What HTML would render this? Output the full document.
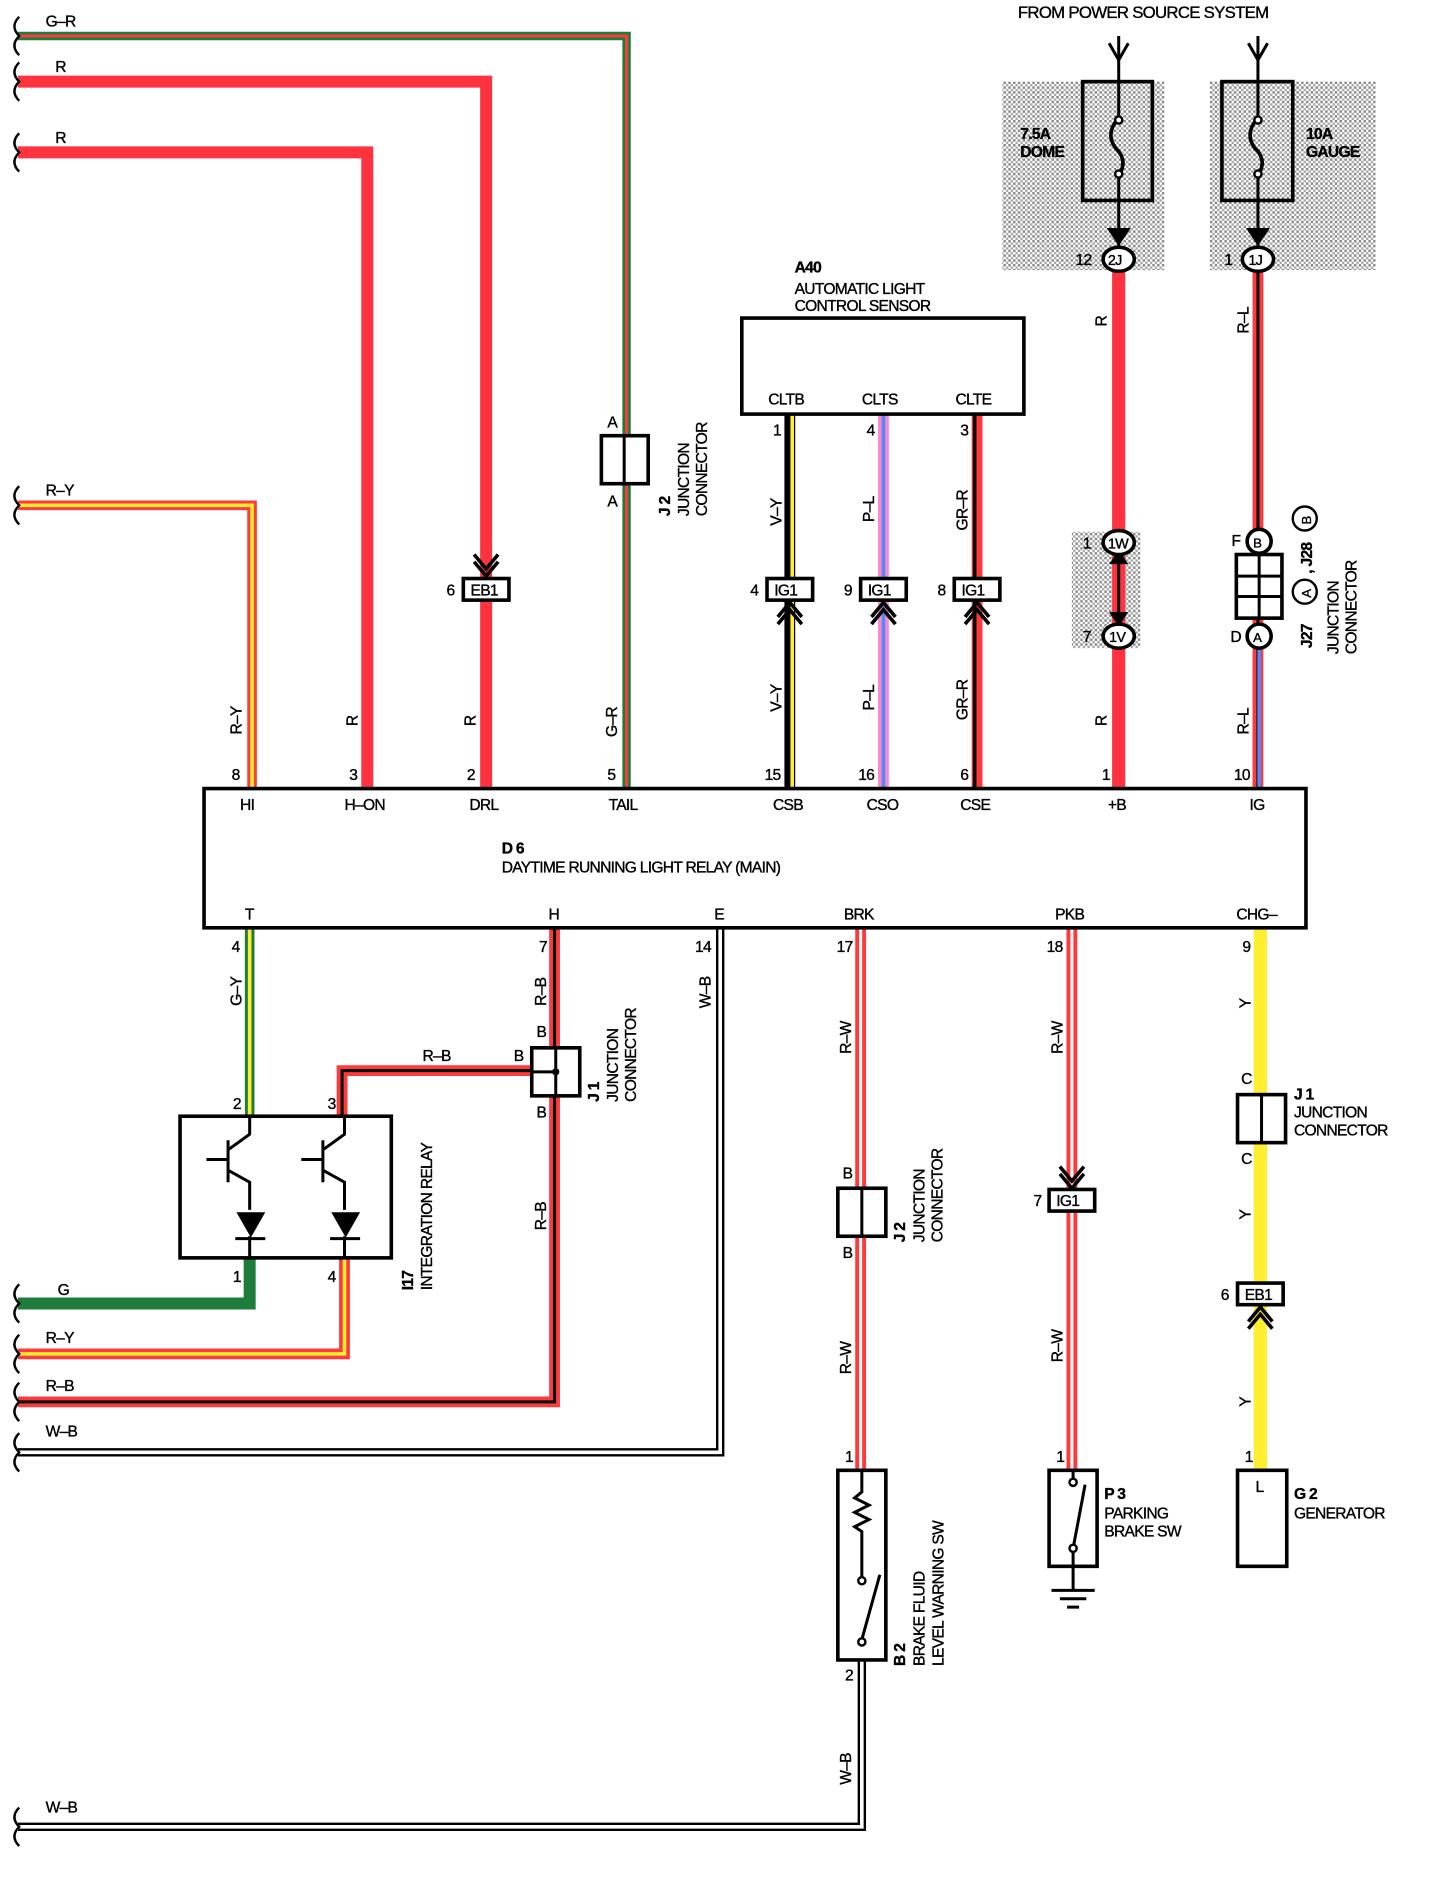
<!DOCTYPE html>
<html><head><meta charset="utf-8"><style>
html,body{margin:0;padding:0;background:#fff;}
svg{display:block}
text{font-family:"Liberation Sans",sans-serif;font-size:13px;fill:#000;letter-spacing:-0.6px;stroke:#000;stroke-width:0.3px}
.b{font-weight:bold}
</style></head><body>
<svg width="1456" height="1888" viewBox="0 0 1213 1573" preserveAspectRatio="none" xmlns="http://www.w3.org/2000/svg">
<defs>
<pattern id="ht" width="4" height="4" patternUnits="userSpaceOnUse"><rect width="4" height="4" fill="#fff"/><rect width="2" height="2" fill="#888"/><rect x="2" y="2" width="2" height="2" fill="#aaa"/></pattern>
</defs>
<rect x="835" y="68" width="135" height="157" fill="url(#ht)"/>
<rect x="1008" y="68" width="138" height="157" fill="url(#ht)"/>
<rect x="893" y="443" width="57" height="97" fill="url(#ht)"/>

<g fill="none" stroke-linejoin="miter">
<path d="M15 30 H522 V657" stroke="#1e7d3a" stroke-width="7"/>
<path d="M15 30 H522 V657" stroke="#ff3a3a" stroke-width="2.5"/>
<path d="M15 68 H405 V657" stroke="#ff3340" stroke-width="10"/>
<path d="M15 127 H306 V657" stroke="#ff3340" stroke-width="10"/>
<path d="M15 421 H210 V657" stroke="#ff3a3a" stroke-width="8"/>
<path d="M15 421 H210 V657" stroke="#ffee30" stroke-width="3"/>
<path d="M658 345 V657" stroke="#000" stroke-width="9"/>
<path d="M660 345 V657" stroke="#ffee30" stroke-width="3"/>
<path d="M736 345 V657" stroke="#ff88cc" stroke-width="9"/>
<path d="M736 345 V657" stroke="#4d8cff" stroke-width="3"/>
<path d="M814 345 V657" stroke="#ff3a3a" stroke-width="9"/>
<path d="M812 345 V657" stroke="#000" stroke-width="3"/>
<path d="M932 225 V657" stroke="#ff3340" stroke-width="11"/>
<path d="M1048 225 V657" stroke="#ff3a3a" stroke-width="9"/>
<path d="M1048 225 V657" stroke="#000" stroke-width="2.5"/>
<path d="M1049 530 V657" stroke="#4d8cff" stroke-width="3"/>
<path d="M208 773 V930" stroke="#1e7d3a" stroke-width="8"/>
<path d="M208 773 V930" stroke="#ffee30" stroke-width="3"/>
<path d="M462 773 V1168 H15" stroke="#ff3a3a" stroke-width="9"/>
<path d="M462 773 V1168 H15" stroke="#000" stroke-width="2.5"/>
<path d="M462 892 H285 V930" stroke="#ff3a3a" stroke-width="9"/>
<path d="M462 892 H285 V930" stroke="#000" stroke-width="2.5"/>
<path d="M600 773 V1210 H15" stroke="#000" stroke-width="7"/>
<path d="M600 773 V1210 H15" stroke="#fff" stroke-width="3"/>
<path d="M208 1048 V1086 H15" stroke="#1e7d3a" stroke-width="10"/>
<path d="M287 1048 V1128 H15" stroke="#ff3a3a" stroke-width="9"/>
<path d="M287 1048 V1128 H15" stroke="#ffee30" stroke-width="3"/>
<path d="M717 773 V1225" stroke="#ff3a3a" stroke-width="9"/>
<path d="M717 773 V1225" stroke="#fff" stroke-width="2.5"/>
<path d="M718 1383 V1522 H15" stroke="#000" stroke-width="7"/>
<path d="M718 1383 V1522 H15" stroke="#fff" stroke-width="3"/>
<path d="M893 773 V1225" stroke="#ff3a3a" stroke-width="9"/>
<path d="M893 773 V1225" stroke="#fff" stroke-width="2.5"/>
<path d="M1050 773 V1225" stroke="#ffee30" stroke-width="11"/>
<g stroke="#000" stroke-width="2">
<path d="M16 14 q-8 8 0 16 q-8 8 0 16"/>
<path d="M16 52 q-8 8 0 16 q-8 8 0 16"/>
<path d="M16 111 q-8 8 0 16 q-8 8 0 16"/>
<path d="M16 405 q-8 8 0 16 q-8 8 0 16"/>
<path d="M16 1070 q-8 8 0 16 q-8 8 0 16"/>
<path d="M16 1112 q-8 8 0 16 q-8 8 0 16"/>
<path d="M16 1152 q-8 8 0 16 q-8 8 0 16"/>
<path d="M16 1194 q-8 8 0 16 q-8 8 0 16"/>
<path d="M16 1506 q-8 8 0 16 q-8 8 0 16"/>
</g>
</g>

<g fill="#fff" stroke="#000" stroke-width="3">
<rect x="170" y="657" width="918" height="116"/>
<rect x="618" y="265" width="235" height="80"/>
<rect x="501" y="363" width="39" height="40"/>
<rect x="386" y="482" width="38" height="18"/>
<rect x="639" y="482" width="38" height="18"/>
<rect x="717" y="482" width="38" height="18"/>
<rect x="795" y="482" width="38" height="18"/>
<rect x="874" y="991" width="38" height="18"/>
<rect x="1031" y="1069" width="38" height="18"/>
<rect x="150" y="930" width="176" height="118"/>
<rect x="443" y="873" width="40" height="40"/>
<rect x="698" y="990" width="40" height="40"/>
<rect x="1031" y="912" width="40" height="40"/>
<rect x="698" y="1225" width="40" height="158"/>
<rect x="874" y="1225" width="40" height="80"/>
<rect x="1031" y="1225" width="41" height="80"/>
<rect x="1030" y="462" width="38" height="53"/>
<rect x="902" y="68" width="58" height="99" fill="none"/>
<rect x="1018" y="68" width="59" height="99" fill="none"/>
</g>
<g stroke="#000" stroke-width="2.5" fill="none">
<line x1="520" y1="363" x2="520" y2="403"/>
<line x1="463" y1="873" x2="463" y2="913"/>
<line x1="443" y1="893" x2="463" y2="893"/>
<line x1="718" y1="990" x2="718" y2="1030"/>
<line x1="1051" y1="912" x2="1051" y2="952"/>
<line x1="1049" y1="462" x2="1049" y2="515"/>
<line x1="1030" y1="480" x2="1068" y2="480"/>
<line x1="1030" y1="497" x2="1068" y2="497"/>
<line x1="932" y1="30" x2="932" y2="98"/>
<line x1="932" y1="146" x2="932" y2="205"/>
<line x1="1048" y1="30" x2="1048" y2="98"/>
<line x1="1048" y1="146" x2="1048" y2="205"/>
<path d="M924 36 L932 50 L940 36"/>
<path d="M1040 36 L1048 50 L1056 36"/>
<path d="M932 98 q-12 14 -2 26 q10 10 2 22" stroke-width="3"/>
<path d="M1048 98 q-12 14 -2 26 q10 10 2 22" stroke-width="3"/>
<path d="M395 462 L405 474 L415 462 M395 468 L405 480 L415 468" stroke-width="3"/>
<path d="M648 520 L658 508 L668 520 M648 514 L658 502 L668 514" stroke-width="3"/>
<path d="M726 520 L736 508 L746 520 M726 514 L736 502 L746 514" stroke-width="3"/>
<path d="M804 520 L814 508 L824 520 M804 514 L814 502 L824 514" stroke-width="3"/>
<path d="M883 972 L893 984 L903 972 M883 978 L893 990 L903 978" stroke-width="3"/>
<path d="M1040 1107 L1050 1095 L1060 1107 M1040 1101 L1050 1089 L1060 1101" stroke-width="3"/>
<line x1="932" y1="462" x2="932" y2="520"/>
<path d="M208 930 V945 L190 958 M190 950 V985 M190 975 L208 985 V1008 M172 966 H190"/>
<path d="M287 930 V945 L269 958 M269 950 V985 M269 975 L287 985 V1008 M251 966 H269"/>
<line x1="208" y1="1030" x2="208" y2="1048"/>
<line x1="287" y1="1030" x2="287" y2="1048"/>
<line x1="196" y1="1032" x2="221" y2="1032"/>
<line x1="275" y1="1032" x2="300" y2="1032"/>
<path d="M718 1225 V1243 l-6 5 l12 6 l-12 6 l12 6 l-12 6 l6 4 V1317"/>
<path d="M718 1366 L733 1312"/>
<path d="M894 1290 L904 1237"/>
<line x1="894" y1="1225" x2="894" y2="1232"/>
<line x1="894" y1="1292" x2="894" y2="1325"/>
<line x1="876" y1="1325" x2="912" y2="1325"/>
<line x1="883" y1="1332" x2="905" y2="1332"/>
<line x1="889" y1="1339" x2="899" y2="1339"/>
</g>
<g fill="#000">
<polygon points="197,1010 221,1010 209,1031"/>
<polygon points="276,1010 300,1010 288,1031"/>
<polygon points="922,190 942,190 932,205"/>
<polygon points="1038,190 1058,190 1048,205"/>
<polygon points="924,470 940,470 932,458"/>
<polygon points="924,510 940,510 932,522"/>
<circle cx="463" cy="893" r="3"/>
</g>
<g fill="#fff" stroke="#000" stroke-width="2">
<circle cx="932" cy="100" r="3"/><circle cx="932" cy="145" r="3"/>
<circle cx="1048" cy="100" r="3"/><circle cx="1048" cy="145" r="3"/>
<circle cx="718" cy="1317" r="3"/><circle cx="718" cy="1368" r="3"/>
<circle cx="894" cy="1235" r="3"/><circle cx="894" cy="1290" r="3"/>
</g>
<g fill="#fff" stroke="#000" stroke-width="3">
<ellipse cx="932" cy="216" rx="13" ry="10"/>
<ellipse cx="1048" cy="216" rx="13" ry="10"/>
<ellipse cx="932" cy="452" rx="13" ry="10"/>
<ellipse cx="932" cy="530" rx="13" ry="10"/>
<circle cx="1049" cy="451" r="10"/>
<circle cx="1049" cy="530" r="10"/>
<circle cx="1087" cy="432" r="10" stroke-width="2"/>
<circle cx="1087" cy="493" r="10" stroke-width="2"/>
</g>

<g>
<text x="38" y="22">G–R</text>
<text x="46" y="60">R</text>
<text x="46" y="119">R</text>
<text x="38" y="413">R–Y</text>
<text x="48" y="1079">G</text>
<text x="38" y="1119">R–Y</text>
<text x="38" y="1159">R–B</text>
<text x="38" y="1197">W–B</text>
<text x="38" y="1510">W–B</text>
<text x="848" y="15" style="font-size:14px">FROM POWER SOURCE SYSTEM</text>
<text x="850" y="116" class="b">7.5A</text><text x="850" y="131" class="b">DOME</text>
<text x="1088" y="116" class="b">10A</text><text x="1088" y="131" class="b">GAUGE</text>
<text x="896" y="221">12</text><text x="1020" y="221">1</text>
<text x="923" y="221" style="font-size:12px">2J</text><text x="1040" y="221" style="font-size:12px">1J</text>
<text x="902" y="457">1</text><text x="923" y="457" style="font-size:12px">1W</text>
<text x="902" y="535">7</text><text x="924" y="535" style="font-size:12px">1V</text>
<text x="1026" y="455">F</text><text x="1025" y="535">D</text>
<text x="1044" y="456" style="font-size:11px">B</text><text x="1044" y="535" style="font-size:11px">A</text>
<text x="662" y="227" class="b">A40</text>
<text x="662" y="245">AUTOMATIC LIGHT</text>
<text x="662" y="259">CONTROL SENSOR</text>
<text x="640" y="337">CLTB</text><text x="718" y="337">CLTS</text><text x="796" y="337">CLTE</text>
<text x="644" y="363">1</text><text x="722" y="363">4</text><text x="800" y="363">3</text>
<text x="506" y="356">A</text><text x="506" y="422">A</text>
<text x="372" y="496">6</text><text x="392" y="496">EB1</text>
<text x="625" y="496">4</text><text x="645" y="496">IG1</text>
<text x="703" y="496">9</text><text x="723" y="496">IG1</text>
<text x="781" y="496">8</text><text x="801" y="496">IG1</text>
<text x="861" y="1005">7</text><text x="880" y="1005">IG1</text>
<text x="1017" y="1083">6</text><text x="1037" y="1083">EB1</text>
<text x="193" y="650">8</text><text x="291" y="650">3</text><text x="389" y="650">2</text><text x="506" y="650">5</text>
<text x="637" y="650">15</text><text x="715" y="650">16</text><text x="800" y="650">6</text><text x="918" y="650">1</text><text x="1028" y="650">10</text>
<text x="200" y="675">HI</text><text x="287" y="675">H–ON</text><text x="391" y="675">DRL</text><text x="507" y="675">TAIL</text>
<text x="644" y="675">CSB</text><text x="722" y="675">CSO</text><text x="800" y="675">CSE</text><text x="923" y="675">+B</text><text x="1041" y="675">IG</text>
<text x="418" y="711" class="b">D 6</text>
<text x="418" y="727">DAYTIME RUNNING LIGHT RELAY (MAIN)</text>
<text x="204" y="766">T</text><text x="457" y="766">H</text><text x="595" y="766">E</text>
<text x="703" y="766">BRK</text><text x="879" y="766">PKB</text><text x="1030" y="766">CHG–</text>
<text x="193" y="793">4</text><text x="449" y="793">7</text><text x="579" y="793">14</text><text x="697" y="793">17</text><text x="872" y="793">18</text><text x="1035" y="793">9</text>
<text x="194" y="924">2</text><text x="273" y="924">3</text>
<text x="194" y="1068">1</text><text x="273" y="1068">4</text>
<text x="352" y="884">R–B</text>
<text x="428" y="884">B</text><text x="447" y="864">B</text><text x="447" y="931">B</text>
<text x="702" y="982">B</text><text x="702" y="1048">B</text>
<text x="1034" y="903">C</text><text x="1034" y="970">C</text>
<text x="704" y="1218">1</text><text x="704" y="1400">2</text>
<text x="880" y="1218">1</text><text x="1037" y="1218">1</text>
<text x="1046" y="1243">L</text>
<text x="920" y="1249" class="b">P 3</text><text x="920" y="1265">PARKING</text><text x="920" y="1280">BRAKE SW</text>
<text x="1078" y="1249" class="b">G 2</text><text x="1078" y="1265">GENERATOR</text>
<text x="1078" y="916" class="b">J 1</text><text x="1078" y="931">JUNCTION</text><text x="1078" y="946">CONNECTOR</text>
</g>
<g>
<text transform="translate(201,612) rotate(-90)">R–Y</text>
<text transform="translate(298,605) rotate(-90)">R</text>
<text transform="translate(396,605) rotate(-90)">R</text>
<text transform="translate(514,614) rotate(-90)">G–R</text>
<text transform="translate(651,438) rotate(-90)">V–Y</text>
<text transform="translate(651,593) rotate(-90)">V–Y</text>
<text transform="translate(728,435) rotate(-90)">P–L</text>
<text transform="translate(728,592) rotate(-90)">P–L</text>
<text transform="translate(806,442) rotate(-90)">GR–R</text>
<text transform="translate(806,600) rotate(-90)">GR–R</text>
<text transform="translate(922,272) rotate(-90)">R</text>
<text transform="translate(922,605) rotate(-90)">R</text>
<text transform="translate(1040,278) rotate(-90)">R–L</text>
<text transform="translate(1040,612) rotate(-90)">R–L</text>
<text transform="translate(201,838) rotate(-90)">G–Y</text>
<text transform="translate(455,838) rotate(-90)">R–B</text>
<text transform="translate(455,1025) rotate(-90)">R–B</text>
<text transform="translate(592,840) rotate(-90)">W–B</text>
<text transform="translate(709,878) rotate(-90)">R–W</text>
<text transform="translate(709,1145) rotate(-90)">R–W</text>
<text transform="translate(709,1487) rotate(-90)">W–B</text>
<text transform="translate(885,878) rotate(-90)">R–W</text>
<text transform="translate(885,1135) rotate(-90)">R–W</text>
<text transform="translate(1042,840) rotate(-90)">Y</text>
<text transform="translate(1042,1016) rotate(-90)">Y</text>
<text transform="translate(1042,1172) rotate(-90)">Y</text>
<text transform="translate(558,430) rotate(-90)" class="b">J 2</text>
<text transform="translate(574,430) rotate(-90)">JUNCTION</text>
<text transform="translate(589,430) rotate(-90)">CONNECTOR</text>
<text transform="translate(499,918) rotate(-90)" class="b">J 1</text>
<text transform="translate(515,918) rotate(-90)">JUNCTION</text>
<text transform="translate(530,918) rotate(-90)">CONNECTOR</text>
<text transform="translate(754,1035) rotate(-90)" class="b">J 2</text>
<text transform="translate(770,1035) rotate(-90)">JUNCTION</text>
<text transform="translate(785,1035) rotate(-90)">CONNECTOR</text>
<text transform="translate(344,1075) rotate(-90)" class="b">I17</text>
<text transform="translate(360,1075) rotate(-90)">INTEGRATION RELAY</text>
<text transform="translate(754,1388) rotate(-90)" class="b">B 2</text>
<text transform="translate(770,1388) rotate(-90)">BRAKE FLUID</text>
<text transform="translate(786,1388) rotate(-90)">LEVEL WARNING SW</text>
<text transform="translate(1093,540) rotate(-90)" class="b">J27</text>
<text transform="translate(1093,478) rotate(-90)" class="b">,  J28</text>
<text transform="translate(1115,545) rotate(-90)">JUNCTION</text>
<text transform="translate(1130,545) rotate(-90)">CONNECTOR</text>
<text transform="translate(1092,437) rotate(-90)" style="font-size:11px">B</text>
<text transform="translate(1092,498) rotate(-90)" style="font-size:11px">A</text>
</g>
</svg>
</body></html>
